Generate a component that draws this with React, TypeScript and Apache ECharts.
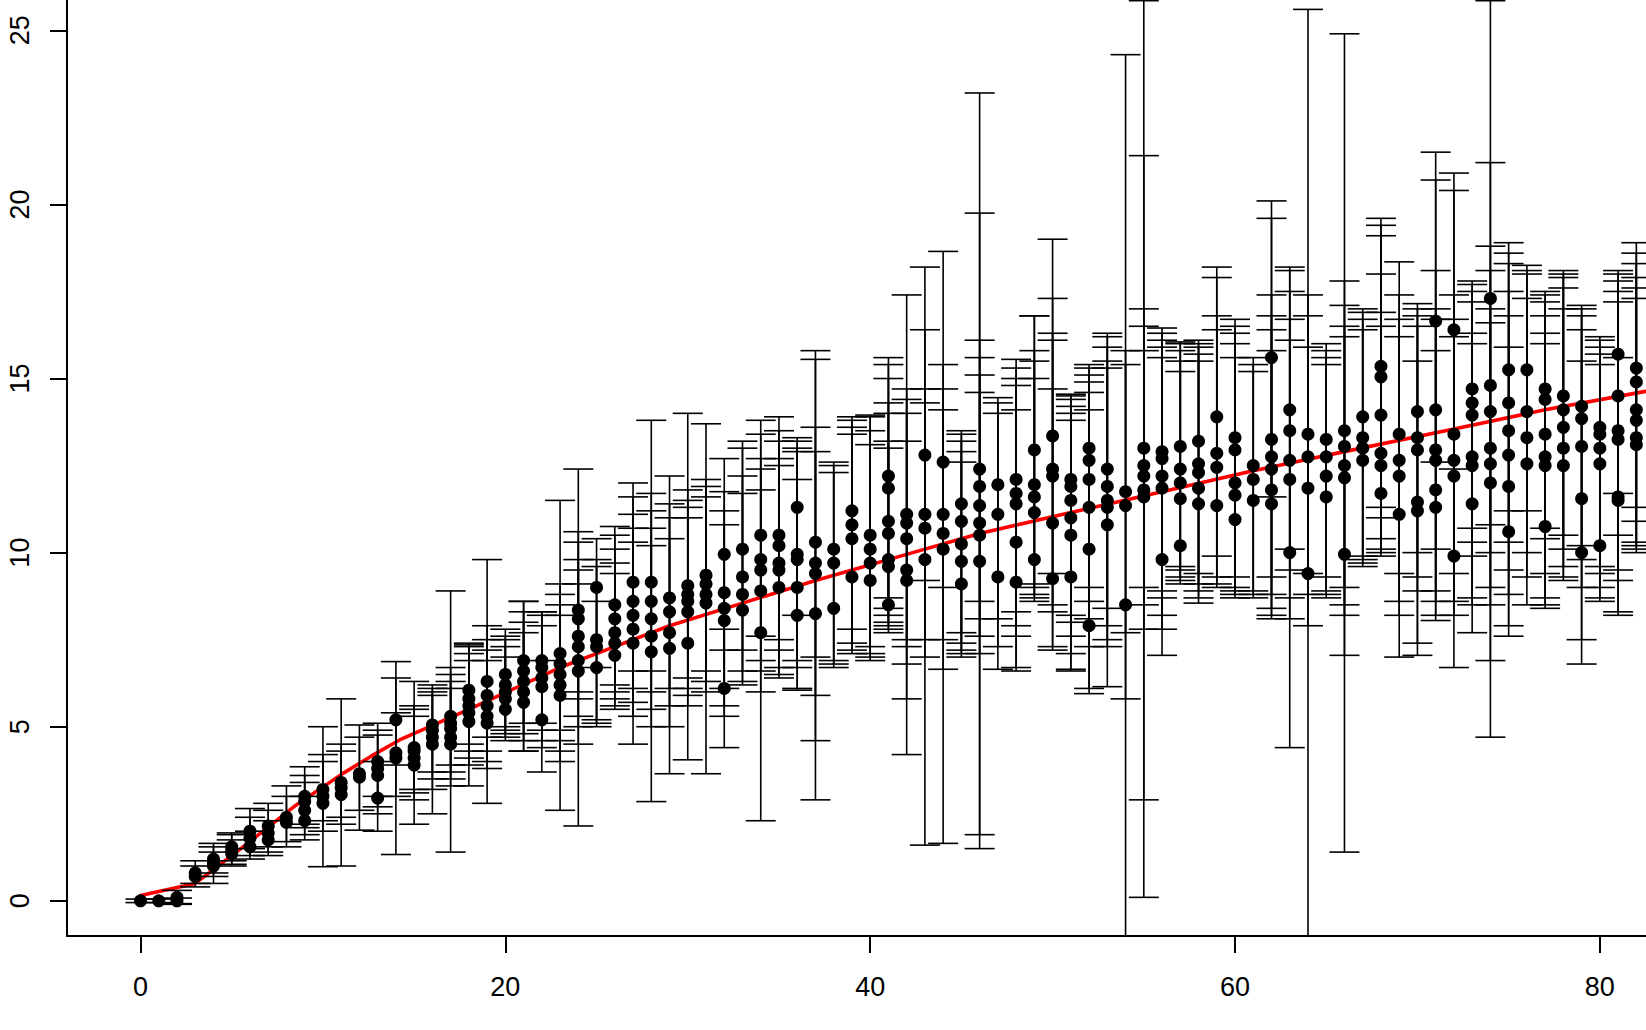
import React, { useEffect, useRef } from "react";
import * as echarts from "echarts";

const xPositions = [
  0, 1, 2, 3, 4, 5, 6, 7, 8, 9, 10, 11, 12, 13, 14, 15, 16, 17, 18, 19, 20,
  21, 22, 23, 24, 25, 26, 27, 28, 29, 30, 31, 32, 33, 34, 35, 36, 37, 38, 39, 40,
  41, 42, 43, 44, 45, 46, 47, 48, 49, 50, 51, 52, 53, 54, 55, 56, 57, 58, 59, 60,
  61, 62, 63, 64, 65, 66, 67, 68, 69, 70, 71, 72, 73, 74, 75, 76, 77, 78, 79, 80,
  81, 82,
];

const pointY = [
  [0], [0], [0, 0.1], [0.7, 0.8], [1.0, 1.1, 1.2], [1.35, 1.45, 1.55],
  [1.55, 1.8, 2.0], [1.75, 1.95, 2.15], [2.25, 2.4], [2.3, 2.6, 2.85, 3.0],
  [2.8, 3.0, 3.2], [3.05, 3.25, 3.4], [3.55, 3.65], [2.95, 3.6, 3.8, 4.0],
  [4.1, 4.25, 5.2], [3.9, 4.1, 4.3, 4.4], [4.5, 4.7, 4.9, 5.05],
  [4.5, 4.7, 4.95, 5.1, 5.3], [5.15, 5.4, 5.6, 5.8, 6.05], [5.1, 5.3, 5.6, 5.9, 6.3],
  [5.5, 5.8, 6.0, 6.2, 6.5], [5.7, 6.0, 6.3, 6.6, 6.9], [5.2, 6.15, 6.4, 6.7, 6.9],
  [5.9, 6.2, 6.5, 6.8, 7.1], [6.6, 6.9, 7.3, 7.6, 8.1, 8.35], [6.7, 7.3, 7.5, 9.0],
  [7.05, 7.4, 7.7, 8.1, 8.5], [7.4, 7.8, 8.2, 8.6, 9.15], [7.15, 7.6, 8.1, 8.6, 9.15],
  [7.25, 7.7, 8.3, 8.7], [7.4, 8.3, 8.6, 8.8, 9.05], [8.55, 8.8, 9.1, 9.35],
  [6.1, 8.05, 8.4, 8.85, 9.95], [8.35, 8.8, 9.3, 10.1], [7.7, 8.9, 9.5, 9.8, 10.5],
  [9.0, 9.5, 9.7, 10.2, 10.5], [8.2, 9.0, 9.8, 9.95, 11.3], [8.25, 9.4, 9.7, 10.3],
  [8.4, 9.7, 10.1], [9.3, 10.4, 10.8, 11.2], [9.2, 9.7, 10.1, 10.5],
  [8.5, 9.6, 9.8, 10.55, 10.9, 11.85, 12.2], [9.2, 9.5, 10.4, 10.85, 11.1],
  [9.8, 10.7, 11.1, 12.8], [10.1, 10.55, 11.1, 12.6], [9.1, 9.75, 10.25, 10.9, 11.4],
  [9.75, 10.5, 10.85, 11.35, 11.9, 12.4], [9.3, 11.1, 11.95],
  [9.15, 10.3, 11.4, 11.7, 12.1], [9.8, 11.15, 11.6, 11.95, 12.95],
  [9.25, 10.85, 12.2, 12.4, 13.35], [9.3, 10.5, 11.0, 11.5, 11.9, 12.1],
  [7.9, 10.1, 11.3, 12.1, 12.65, 13.0], [10.8, 11.3, 11.5, 11.9, 12.4],
  [8.5, 11.35, 11.75], [11.6, 11.8, 12.2, 12.5, 13.0], [9.8, 11.85, 12.2, 12.7, 12.9],
  [10.2, 11.55, 12.0, 12.4, 13.05], [11.4, 11.85, 12.3, 12.55, 13.2],
  [11.35, 12.45, 12.85, 13.9], [10.95, 11.65, 12.0, 12.95, 13.3], [11.5, 12.1, 12.5],
  [11.4, 11.8, 12.4, 12.75, 13.25, 15.6], [10.0, 12.1, 12.65, 13.5, 14.1],
  [9.4, 11.85, 12.75, 13.4], [11.6, 12.2, 12.75, 13.25], [9.95, 12.15, 12.5, 13.05, 13.5],
  [12.65, 13.0, 13.3, 13.9], [11.7, 12.5, 12.85, 13.95, 15.05, 15.35],
  [11.1, 12.2, 12.65, 13.4], [11.2, 11.45, 12.95, 13.3, 14.05],
  [11.3, 11.8, 12.65, 12.95, 14.1, 16.65], [9.9, 12.2, 12.65, 13.4, 16.4],
  [11.4, 12.5, 12.75, 13.95, 14.3, 14.7], [12.0, 12.55, 13.0, 14.05, 14.8, 17.3],
  [10.6, 11.9, 12.8, 13.5, 14.3, 15.25], [12.55, 13.3, 14.05, 15.25],
  [10.75, 12.5, 12.75, 13.4, 14.4, 14.7], [12.5, 13.0, 13.6, 14.1, 14.5],
  [10.0, 11.55, 13.05, 13.85, 14.2], [10.2, 12.55, 13.0, 13.4, 13.6],
  [11.5, 11.6, 13.25, 13.5, 14.5, 15.7], [13.1, 13.3, 13.8, 14.1, 14.9, 15.3],
];

const barLow = [
  [-0.05], [-0.05], [-0.08, -0.1], [0.4, 0.5], [0.5, 0.7, 0.8], [1.0, 1.05, 1.15],
  [1.2, 1.3, 1.5], [1.3, 1.4, 1.55], [1.55, 1.7], [1.75, 1.9, 2.1, 2.2],
  [0.98, 2.0, 2.3], [1.0, 2.2, 2.4], [2.03, 2.6], [2.0, 2.5, 2.7, 3.0],
  [1.33, 3.0, 3.9], [2.2, 2.9, 3.1, 3.2], [2.5, 3.2, 3.5, 3.7],
  [1.4, 3.3, 3.5, 3.7, 3.9], [3.3, 3.9, 4.1, 4.3, 4.5], [2.8, 3.8, 4.0, 4.3, 4.7],
  [4.6, 4.7, 4.8, 4.9, 5.0], [4.3, 4.3, 4.6, 4.8, 5.1], [3.7, 4.4, 4.6, 4.9, 5.1],
  [2.6, 4.0, 4.3, 4.6, 4.9], [2.15, 4.5, 5.0, 5.3, 5.8, 6.0], [5.0, 5.1, 5.2, 6.7],
  [5.5, 5.6, 5.8, 6.0, 6.2], [4.5, 5.3, 5.7, 6.1, 6.6], [2.85, 5.0, 5.5, 6.0, 6.6],
  [3.65, 5.0, 5.6, 6.1], [4.05, 5.6, 5.9, 6.1, 6.4], [3.65, 6.0, 6.3, 6.6],
  [4.4, 5.3, 5.6, 6.1, 7.2], [6.2, 6.3, 6.6, 7.2], [2.3, 6.0, 6.6, 6.9, 7.6],
  [6.4, 6.5, 6.7, 7.2, 7.5], [6.05, 6.1, 6.7, 6.9, 8.2], [2.9, 4.6, 5.9, 7.0],
  [6.7, 6.9, 6.8], [7.1, 7.2, 7.4, 7.8], [6.9, 7.0, 7.1, 7.3],
  [7.7, 7.8, 7.9, 8.0, 8.2, 8.4, 8.7], [4.2, 5.8, 6.8, 7.3, 7.5],
  [1.6, 7.0, 7.5, 9.2], [1.65, 6.65, 7.5, 9.0], [7.0, 7.1, 7.2, 7.4, 7.7],
  [1.5, 1.9, 7.1, 7.6, 8.1, 8.6], [6.65, 7.3, 8.1],
  [6.6, 6.7, 7.6, 7.9, 8.3], [8.6, 8.7, 8.8, 9.0, 9.1],
  [7.2, 7.3, 8.3, 8.5, 9.4], [6.65, 6.6, 7.1, 7.6, 8.0, 8.2],
  [5.95, 6.1, 7.3, 8.1, 8.6, 9.0], [6.15, 7.3, 7.5, 7.9, 8.4],
  [-3, 5.8, 7.7], [0.1, 7.8, 2.9, 8.5, 9.0], [7.05, 7.8, 8.2, 8.7, 8.9],
  [9.1, 9.2, 9.3, 9.5, 9.6], [8.55, 8.7, 8.9, 9.1, 9.4],
  [9.0, 9.1, 9.3, 9.9], [8.7, 8.8, 8.9, 9.0, 9.3], [8.7, 8.8, 8.9],
  [8.1, 8.2, 8.4, 8.8, 9.3, 11.6], [4.4, 8.1, 8.7, 9.5, 10.1],
  [-3, 7.9, 8.8, 9.4], [8.7, 8.8, 8.9, 9.3], [1.4, 8.2, 8.5, 9.0, 7.05],
  [9.6, 9.7, 9.8, 9.9], [9.9, 10.0, 10.1, 10.4, 11.0, 11.3],
  [7.0, 8.2, 8.6, 9.4], [7.05, 7.4, 8.9, 9.3, 10.0],
  [8.05, 8.2, 8.6, 8.9, 10.1, 12.6], [6.7, 8.2, 8.6, 9.4, 12.4],
  [7.7, 8.5, 8.7, 9.9, 10.3, 10.7], [4.7, 8.5, 9.0, 10.0, 10.8, 6.9],
  [7.6, 7.9, 8.8, 9.5, 10.3, 11.2], [8.5, 9.3, 10.0, 11.2],
  [8.4, 8.5, 8.7, 9.4, 10.4, 10.7], [9.2, 9.3, 9.6, 10.1, 10.5],
  [6.8, 7.5, 9.0, 9.8, 10.2], [8.6, 8.7, 9.0, 9.4, 9.6],
  [8.2, 8.3, 9.2, 9.5, 10.5, 11.7], [10.0, 10.1, 10.2, 10.3, 10.9, 11.3],
];

const barHigh = [
  [0.05], [0.05], [0.08, 0.3], [1.0, 1.15], [1.4, 1.55, 1.65], [1.75, 1.9, 1.95],
  [2.0, 2.4, 2.65], [2.3, 2.6, 2.8], [3.0, 3.3], [3.0, 3.4, 3.6, 3.85],
  [5.0, 4.0, 4.2], [5.8, 4.3, 4.5], [5.05, 4.7], [4.0, 4.76, 4.9, 5.1],
  [6.87, 5.4, 6.4], [6.3, 5.3, 5.5, 5.6], [6.2, 5.9, 6.0, 6.1],
  [8.9, 6.1, 6.3, 6.5, 6.7], [7.4, 6.9, 7.1, 7.3, 7.35], [9.8, 6.9, 7.2, 7.5, 7.9],
  [7.0, 7.3, 7.5, 7.6, 7.8], [8.6, 7.7, 8.0, 8.3, 8.6], [6.9, 7.9, 8.3, 8.3, 8.2],
  [11.5, 8.2, 8.5, 8.8, 9.1], [12.4, 9.1, 9.5, 9.8, 10.3, 10.6], [8.6, 9.6, 9.8, 10.4],
  [10.75, 9.4, 9.7, 10.1, 10.5], [12.0, 10.3, 10.7, 11.1, 11.6], [13.8, 10.2, 10.7, 11.2, 11.7],
  [12.2, 10.4, 11.0, 11.4], [14.0, 11.0, 11.3, 11.5, 11.8], [13.7, 11.6, 11.9, 12.1],
  [7.8, 10.8, 11.2, 11.75, 12.7], [13.2, 11.7, 12.2, 13.0], [13.8, 11.8, 12.4, 12.7, 13.4],
  [13.9, 12.5, 12.7, 13.2, 13.5], [13.3, 12.1, 12.9, 13.0, 13.2], [15.8, 15.55, 12.9, 13.6],
  [12.6, 12.3, 12.5], [13.9, 13.4, 13.6, 13.8], [13.95, 13.1, 13.5, 13.9],
  [15.6, 13.0, 13.2, 14.0, 14.3, 15.0, 15.4], [17.4, 13.2, 14.0, 14.4, 14.7],
  [18.2, 14.3, 14.7, 16.4], [18.65, 14.1, 14.7, 15.4], [13.5, 12.6, 12.9, 13.2, 13.4],
  [23.2, 19.75, 14.6, 15.1, 15.6, 16.1], [14.45, 14.0, 14.3],
  [15.55, 14.1, 14.8, 15.0, 15.3], [16.8, 15.0, 15.5, 15.8, 16.8],
  [19.0, 14.7, 16.1, 16.3, 17.3], [14.55, 13.8, 14.0, 14.2, 14.4, 14.5],
  [15.4, 14.1, 14.6, 14.9, 15.1, 15.3], [16.3, 15.3, 15.5, 15.9, 16.2],
  [24.3, 15.4, 15.8], [25.85, 15.8, 21.4, 16.5, 17.0], [16.45, 15.6, 15.9, 16.1, 16.3],
  [16.05, 15.2, 15.5, 15.8, 16.0], [16.1, 15.5, 15.7, 15.9, 16.0],
  [18.2, 16.4, 16.8, 17.9], [16.7, 15.6, 16.0, 16.3, 16.5], [15.6, 15.2, 15.4],
  [20.1, 15.8, 16.4, 16.8, 17.4, 19.6], [18.2, 16.1, 16.7, 17.5, 18.1],
  [25.6, 15.9, 16.8, 17.4], [16.0, 15.4, 15.6, 15.8], [24.9, 16.2, 16.5, 17.1, 17.8],
  [17.0, 16.4, 16.7, 16.9], [19.6, 16.5, 16.9, 18.0, 19.1, 19.4],
  [18.35, 16.2, 16.7, 17.4], [17.15, 15.5, 16.5, 16.8, 17.0],
  [21.5, 15.8, 16.7, 17.0, 18.1, 20.7], [20.9, 16.2, 16.7, 17.4, 20.4],
  [17.8, 16.0, 16.3, 17.2, 17.5, 17.7], [25.85, 16.6, 17.0, 18.1, 18.8, 21.2],
  [18.9, 15.9, 16.8, 17.5, 18.3, 18.6], [18.25, 17.3, 18.0, 18.1],
  [17.5, 16.0, 16.3, 16.8, 17.2, 17.4], [18.1, 17.0, 17.6, 17.9, 18.0],
  [17.1, 15.5, 16.4, 16.8, 17.0], [16.2, 15.4, 15.7, 15.9, 16.1],
  [18.1, 15.6, 17.2, 17.5, 17.8, 18.0], [18.9, 17.3, 17.6, 17.9, 18.3, 18.6],
];

const fitX = [0, 1, 2, 3, 5.5, 8.4, 11.1, 12.6, 14.2, 18, 23, 26, 29, 33, 37, 42, 46, 51, 56, 61, 66, 72, 77, 82.5];
const fitY = [0.15, 0.27, 0.38, 0.5, 1.5, 2.7, 3.66, 4.14, 4.62, 5.5, 6.7, 7.3, 7.9, 8.55, 9.2, 9.95, 10.55, 11.15, 11.75, 12.35, 12.9, 13.55, 14.1, 14.63];

const xTicks = [0, 20, 40, 60, 80];
const yTicks = [0, 5, 10, 15, 20, 25];

export default function App() {
  const ref = useRef<HTMLDivElement>(null);

  useEffect(() => {
    if (!ref.current) return;
    const chart = echarts.init(ref.current, null, { renderer: "svg" });

    const points: number[][] = [];
    const bars: number[][] = [];
    xPositions.forEach((x, i) => {
      pointY[i].forEach((y, j) => {
        points.push([x, y]);
        bars.push([x, barLow[i][j], barHigh[i][j]]);
      });
    });

    const font = "'Liberation Sans', Arial, Helvetica, sans-serif";
    const barStyle = { stroke: "#000", lineWidth: 1.6, fill: "none" };

    chart.setOption({
      animation: false,
      backgroundColor: "#ffffff",
      grid: { left: 67, right: 0, top: 0, bottom: 94, containLabel: false, outerBoundsMode: "none" },
      xAxis: {
        type: "value",
        min: -4.03,
        max: 82.53,
        axisLine: { show: true, onZero: false, lineStyle: { color: "#000", width: 2 } },
        axisTick: { show: true, length: 17, customValues: xTicks, lineStyle: { color: "#000", width: 2 } },
        axisLabel: { customValues: xTicks, margin: 37, fontSize: 27, color: "#000", fontFamily: font },
        splitLine: { show: false },
      },
      yAxis: {
        type: "value",
        min: -1.01,
        max: 25.87,
        axisLine: { show: true, onZero: false, lineStyle: { color: "#000", width: 2 } },
        axisTick: { show: true, length: 17, customValues: yTicks, lineStyle: { color: "#000", width: 2 } },
        axisLabel: { customValues: yTicks, rotate: 90, margin: 34, fontSize: 27, color: "#000", fontFamily: font },
        splitLine: { show: false },
      },
      series: [
        {
          type: "line",
          data: fitX.map((x, i) => [x, fitY[i]]),
          smooth: false,
          symbol: "none",
          lineStyle: { color: "#ff0000", width: 3.6, cap: "round", join: "round" },
          z: 1,
          silent: true,
        },
        {
          type: "custom",
          data: bars,
          clip: true,
          z: 2,
          silent: true,
          encode: { x: 0, y: [1, 2] },
          renderItem: (_params: any, api: any) => {
            const x = api.value(0);
            const pLo = api.coord([x, api.value(1)]);
            const pHi = api.coord([x, api.value(2)]);
            const hw = 15;
            return {
              type: "group",
              children: [
                { type: "line", shape: { x1: pLo[0], y1: pLo[1], x2: pHi[0], y2: pHi[1] }, style: barStyle },
                { type: "line", shape: { x1: pLo[0] - hw, y1: pLo[1], x2: pLo[0] + hw, y2: pLo[1] }, style: barStyle },
                { type: "line", shape: { x1: pHi[0] - hw, y1: pHi[1], x2: pHi[0] + hw, y2: pHi[1] }, style: barStyle },
              ],
            };
          },
        },
        {
          type: "scatter",
          data: points,
          symbol: "circle",
          symbolSize: 13,
          itemStyle: { color: "#000", opacity: 1 },
          z: 3,
          silent: true,
        },
      ],
    });

    return () => chart.dispose();
  }, []);

  return (
    <div
      ref={ref}
      style={{ position: "absolute", left: 0, top: 0, width: 1646, height: 1030, background: "#fff" }}
    />
  );
}
